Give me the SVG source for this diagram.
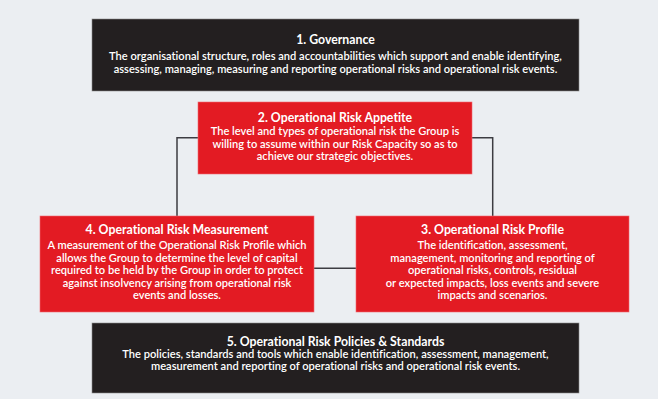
<svg xmlns="http://www.w3.org/2000/svg" width="658" height="399" viewBox="0 0 658 399">
<style>
.bg{fill:#ebeef2}
.dark{fill:#231f20;stroke:#8a8a8a;stroke-width:0.6}
.red{fill:#e31b23;stroke:#f06a70;stroke-width:0.6}
.t{font-family:Lato,"Liberation Sans",sans-serif;font-weight:700;font-size:12.3px;fill:#ffffff;text-anchor:middle;font-variant-ligatures:none}
.b{font-family:Lato,"Liberation Sans",sans-serif;font-weight:600;font-size:11.1px;fill:#ffffff;text-anchor:middle;font-variant-ligatures:none}
.conn{fill:none;stroke:#3c3c42;stroke-width:1.5}
</style>
<rect class="bg" x="0" y="0" width="658" height="399"/>
<g id="connectors">
<polyline class="conn" points="198,137.7 177,137.7 177,216"/>
<polyline class="conn" points="472,137.7 492.7,137.7 492.7,216"/>
<line class="conn" x1="314" y1="268.3" x2="356" y2="268.3"/>
</g>
<g id="governance">
<rect class="dark" x="92" y="19" width="487" height="72"/>
<text class="t" x="335.5" y="44">1. Governance</text>
<text class="b" x="335.5" y="60">The organisational structure, roles and accountabilities which support and enable identifying,</text>
<text class="b" x="335.5" y="73">assessing, managing, measuring and reporting operational risks and operational risk events.</text>
</g>
<g id="appetite">
<rect class="red" x="198" y="102" width="274" height="72"/>
<text class="t" x="335" y="122">2. Operational Risk Appetite</text>
<text class="b" x="335" y="134.5">The level and types of operational risk the Group is</text>
<text class="b" x="335" y="147.5">willing to assume within our Risk Capacity so as to</text>
<text class="b" x="335" y="160">achieve our strategic objectives.</text>
</g>
<g id="measurement">
<rect class="red" x="40" y="216" width="274" height="96"/>
<text class="t" x="177" y="234.3">4. Operational Risk Measurement</text>
<text class="b" x="177" y="249">A measurement of the Operational Risk Profile which</text>
<text class="b" x="177" y="261.7">allows the Group to determine the level of capital</text>
<text class="b" x="177" y="274.3">required to be held by the Group in order to protect</text>
<text class="b" x="177" y="286.7">against insolvency arising from operational risk</text>
<text class="b" x="177" y="299">events and losses.</text>
</g>
<g id="profile">
<rect class="red" x="356" y="216" width="273" height="96"/>
<text class="t" x="492.5" y="234.3">3. Operational Risk Profile</text>
<text class="b" x="492.5" y="249.3">The identification, assessment,</text>
<text class="b" x="492.5" y="261.7">management, monitoring and reporting of</text>
<text class="b" x="492.5" y="274.3">operational risks, controls, residual</text>
<text class="b" x="492.5" y="287">or expected impacts, loss events and severe</text>
<text class="b" x="492.5" y="299.3">impacts and scenarios.</text>
</g>
<g id="policies">
<rect class="dark" x="92" y="323" width="487" height="70"/>
<text class="t" x="335.5" y="345.7">5. Operational Risk Policies &amp; Standards</text>
<text class="b" x="335.5" y="358.3">The policies, standards and tools which enable identification, assessment, management,</text>
<text class="b" x="335.5" y="370">measurement and reporting of operational risks and operational risk events.</text>
</g>
</svg>
